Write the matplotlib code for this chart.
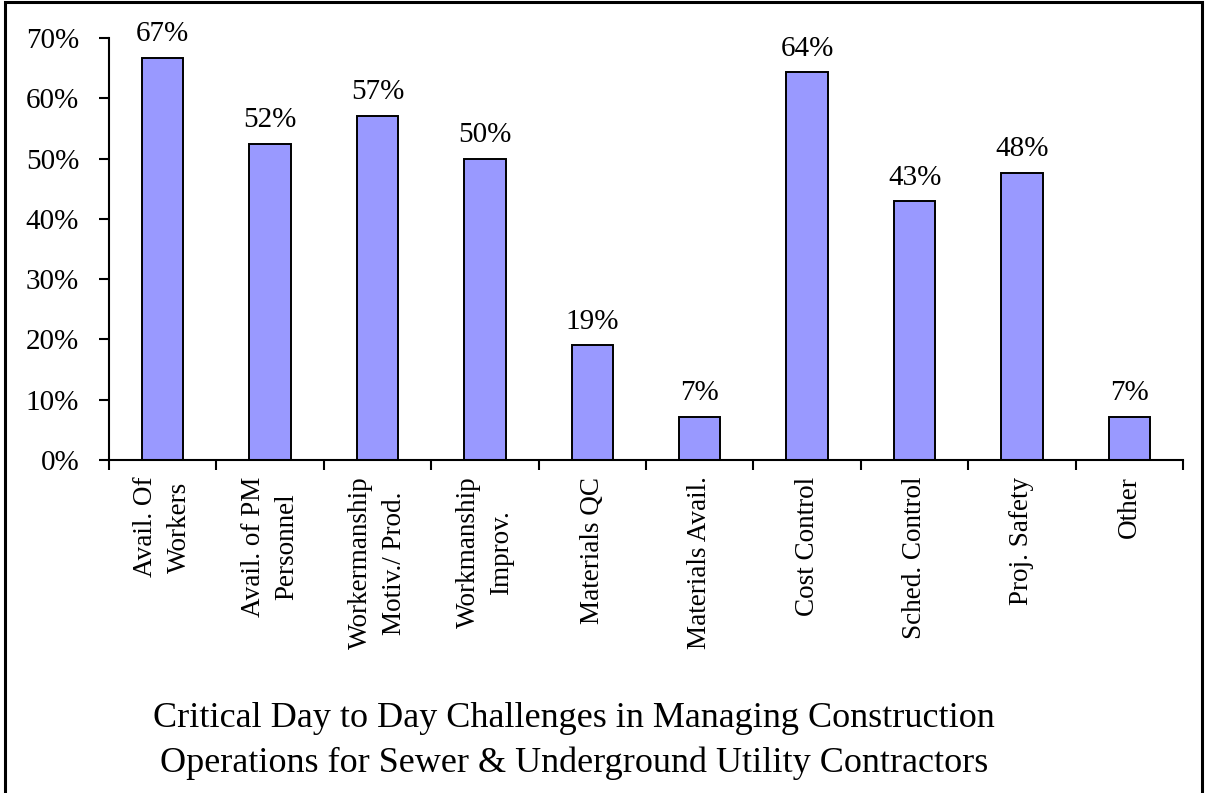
import matplotlib

matplotlib.use("Agg")
import matplotlib.pyplot as plt
from matplotlib.patches import Rectangle
from matplotlib.ticker import FixedLocator, MultipleLocator, PercentFormatter

categories = [
    "Avail. Of\nWorkers",
    "Avail. of PM\nPersonnel",
    "Workermanship\nMotiv./ Prod.",
    "Workmanship\nImprov.",
    "Materials QC",
    "Materials Avail.",
    "Cost Control",
    "Sched. Control",
    "Proj. Safety",
    "Other",
]
shares = [66.7, 52.4, 57.1, 50.0, 19.0, 7.1, 64.3, 42.9, 47.6, 7.1]
title_lines = [
    "Critical Day to Day Challenges in Managing Construction",
    "Operations for Sewer & Underground Utility Contractors",
]

plt.rcParams["font.family"] = ["Liberation Serif", "DejaVu Serif"]

fig = plt.figure(figsize=(12.06, 7.93), dpi=100)
ax = fig.add_axes([0.0904, 0.42, 0.8906, 0.532])

x = list(range(len(categories)))
ax.bar(x, shares, width=0.385, color="#9999FF", edgecolor="black", linewidth=1.4)

for xi, v in zip(x, shares):
    ax.annotate(
        f"{v:.0f}%",
        (xi, v),
        xytext=(0, 12),
        textcoords="offset points",
        ha="center",
        va="baseline",
        fontsize=21,
    )

ax.set_xlim(-0.5, len(categories) - 0.5)
ax.set_ylim(0, 70)
ax.yaxis.set_major_locator(MultipleLocator(10))
ax.yaxis.set_major_formatter(PercentFormatter(decimals=0))
ax.tick_params(axis="y", labelsize=21, length=7.5, width=1.5, direction="out", pad=14)

# ticks on category boundaries, labels at centres
ax.xaxis.set_major_locator(FixedLocator([i - 0.5 for i in range(len(categories) + 1)]))
ax.xaxis.set_major_formatter(plt.NullFormatter())
ax.xaxis.set_minor_locator(FixedLocator(x))
ax.set_xticklabels(categories, minor=True, rotation=90, fontsize=19.5,
                   ha="center", va="top", multialignment="center", linespacing=1.45)
ax.tick_params(axis="x", which="major", length=7, width=1.5, direction="out")
ax.tick_params(axis="x", which="minor", length=0, pad=12)

for side in ("top", "right"):
    ax.spines[side].set_visible(False)
for side in ("left", "bottom"):
    ax.spines[side].set_linewidth(1.5)

for line, y in zip(title_lines, [0.0832, 0.0265]):
    fig.text(0.476, y, line, ha="center", va="baseline", fontsize=26)

fig.patches.append(
    Rectangle((0.0045, -0.02), 0.9925, 1.018, transform=fig.transFigure,
              fill=False, edgecolor="black", linewidth=2.2)
)

fig.savefig("out.png", dpi=100)
